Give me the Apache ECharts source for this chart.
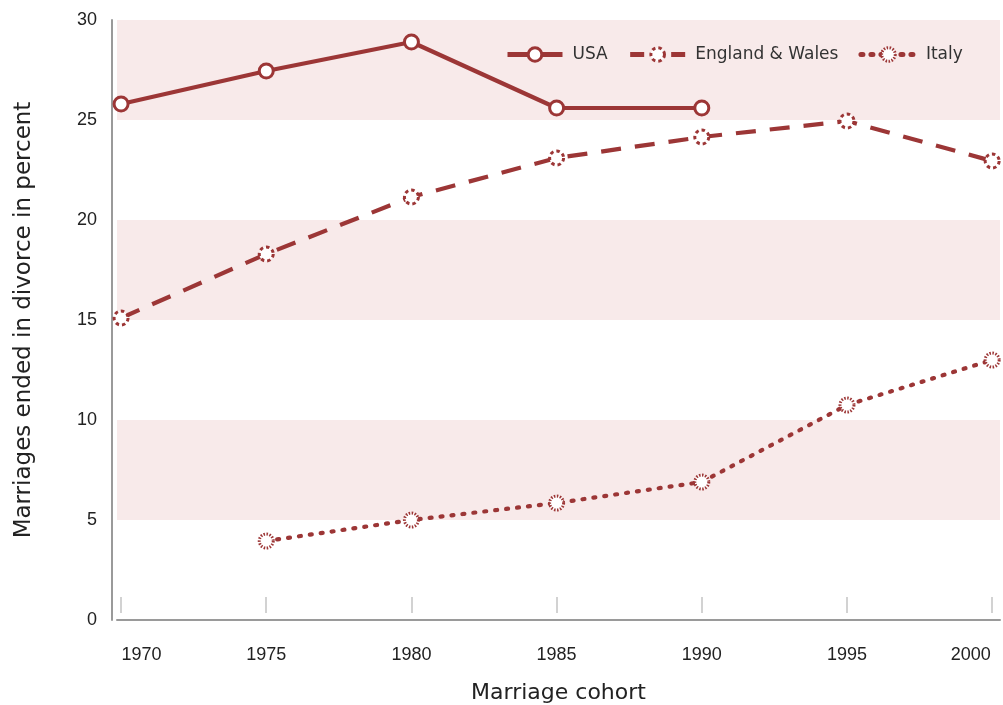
<!DOCTYPE html>
<html>
<head>
<meta charset="utf-8">
<script src="https://cdn.jsdelivr.net/npm/echarts@6/dist/echarts.min.js"></script>
<style>html,body{margin:0;padding:0;background:#fff}#c{width:1003px;height:705px}</style>
</head>
<body>
<div id="c"></div>
<script>
const years = [1970, 1975, 1980, 1985, 1990, 1995, 2000];
const usa = [25.8, 27.45, 28.9, 25.6, 25.6, null, null];
const englandWales = [15.1, 18.3, 21.15, 23.1, 24.15, 24.95, 22.95];
const italy = [null, 3.95, 5.0, 5.85, 6.9, 10.75, 13.0];
const yTicks = [0, 5, 10, 15, 20, 25, 30];
const bands = [[5, 10], [15, 20], [25, 30]];
const seriesNames = ['USA', 'England & Wales', 'Italy'];

const RED = '#9c3636';
const TICKFONT = '"Liberation Sans", Arial, sans-serif';
const TITLEFONT = '"DejaVu Sans", sans-serif';
const pairs = arr => years.map((y, i) => [y, arr[i]]).filter(p => p[1] != null);

const styles = {
  'USA': {
    lineStyle: { color: RED, width: 4.2, type: 'solid' },
    itemStyle: { color: '#fff', borderColor: RED, borderWidth: 3, borderType: 'solid' },
    legendLine: { color: RED, width: 5, type: 'solid' }
  },
  'England & Wales': {
    lineStyle: { color: RED, width: 4.2, type: [20, 14] },
    itemStyle: { color: '#fff', borderColor: RED, borderWidth: 3, borderType: [3.5, 3] },
    legendLine: { color: RED, width: 5, type: [14, 27] }
  },
  'Italy': {
    lineStyle: { color: RED, width: 4.2, type: [2, 9], cap: 'round' },
    itemStyle: { color: '#fff', borderColor: RED, borderWidth: 3, borderType: [1.5, 1.5] },
    legendLine: { color: RED, width: 5, type: [2, 8], cap: 'round' }
  }
};
const seriesData = { 'USA': usa, 'England & Wales': englandWales, 'Italy': italy };

const chart = echarts.init(document.getElementById('c'));
const xMin = 1969.86, xMax = 2000.27;
chart.setOption({
  animation: false,
  backgroundColor: '#fff',
  grid: { left: 117, right: 3, top: 20, bottom: 85, outerBoundsMode: 'none' },
  legend: {
    data: seriesNames.map(n => ({
      name: n,
      itemStyle: styles[n].itemStyle,
      lineStyle: styles[n].legendLine
    })),
    left: 500, top: 41,
    itemWidth: 55, itemHeight: 17, itemGap: 20,
    textStyle: { fontFamily: TITLEFONT, fontSize: 17, color: '#333', padding: [0, 0, 0, 5] }
  },
  xAxis: [{
    type: 'value', min: xMin, max: xMax,
    name: 'Marriage cohort', nameLocation: 'middle', nameGap: 62,
    nameTextStyle: { fontFamily: TITLEFONT, fontSize: 22, color: '#222' },
    axisLine: { show: true, lineStyle: { color: '#9a9a9a', width: 2 } },
    axisTick: { show: false },
    splitLine: { show: false },
    axisLabel: {
      customValues: years, margin: 26, fontFamily: TICKFONT, fontSize: 18, color: '#222',
      formatter: v => v === years[0] ? '{first|' + v + '}' : v === years[years.length - 1] ? '{last|' + v + '}' : String(v),
      rich: {
        first: { fontFamily: TICKFONT, fontSize: 18, color: '#222', padding: [0, 0, 0, 41] },
        last: { fontFamily: TICKFONT, fontSize: 18, color: '#222', padding: [0, 43, 0, 0] }
      }
    }
  }, {
    type: 'value', min: xMin, max: xMax, position: 'bottom', offset: -7,
    axisLine: { show: false },
    axisTick: { show: true, inside: true, length: 16, customValues: years, lineStyle: { color: '#c4c4c4', width: 1.5 } },
    axisLabel: { show: false },
    splitLine: { show: false }
  }],
  yAxis: {
    type: 'value', min: 0, max: 30, interval: 5, offset: 5,
    name: 'Marriages ended in divorce in percent', nameLocation: 'middle', nameGap: 76,
    nameTextStyle: { fontFamily: TITLEFONT, fontSize: 23, color: '#222' },
    axisLine: { show: true, lineStyle: { color: '#9a9a9a', width: 2 } },
    axisTick: { show: false },
    splitLine: { show: false },
    axisLabel: { margin: 15, fontFamily: TICKFONT, fontSize: 18, color: '#222', customValues: yTicks }
  },
  series: [
    {
      name: 'bands', type: 'line', data: [], z: 0, silent: true,
      markArea: {
        silent: true,
        itemStyle: { color: '#f8eaea' },
        data: bands.map(b => [{ yAxis: b[0] }, { yAxis: b[1] }])
      }
    }
  ].concat(seriesNames.map(n => ({
    name: n, type: 'line', data: pairs(seriesData[n]),
    symbol: 'circle', symbolSize: 14,
    lineStyle: styles[n].lineStyle,
    itemStyle: styles[n].itemStyle
  })))
});
</script>
</body>
</html>
